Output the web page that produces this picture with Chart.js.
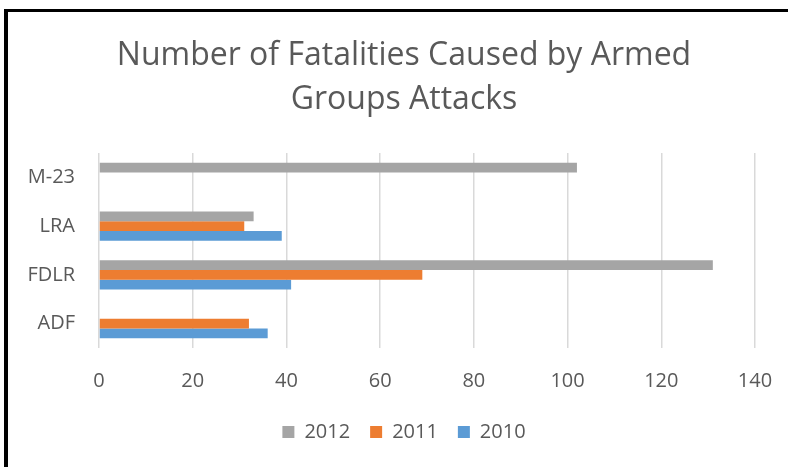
<!DOCTYPE html>
<html>
<head>
<meta charset="utf-8">
<script src="https://cdn.jsdelivr.net/npm/chart.js@4"></script>
<style>
  html, body { margin: 0; padding: 0; background: #fff; }
  body { width: 788px; height: 467px; overflow: hidden; position: relative; }
  .frame {
    position: absolute; left: 4px; top: 9px; right: 0; bottom: 0;
    border-left: 4px solid #000; border-top: 3px solid #000;
  }
  #chart { display: block; }
</style>
</head>
<body>
<div class="frame">
  <canvas id="chart" width="780" height="455"></canvas>
</div>
<script>
const groups = ['M-23', 'LRA', 'FDLR', 'ADF'];
const years = ['2012', '2011', '2010'];
const fatal2012 = [102, 33, 131, 0];
const fatal2011 = [0, 31, 69, 32];
const fatal2010 = [0, 39, 41, 36];
const xTicks = [0, 20, 40, 60, 80, 100, 120, 140];

const textColor = '#595959';

function createBarChart() {
    const ctx = document.getElementById('chart').getContext('2d');
    return new Chart(ctx, {
        type: 'bar',
        data: {
            labels: groups,
            datasets: [
                { label: years[0], data: fatal2012, backgroundColor: '#A5A5A5' },
                { label: years[1], data: fatal2011, backgroundColor: '#ED7D31' },
                { label: years[2], data: fatal2010, backgroundColor: '#5B9BD5' }
            ]
        },
        options: {
            indexAxis: 'y',
            responsive: false,
            animation: false,
            devicePixelRatio: 1,
            categoryPercentage: 0.6,
            barPercentage: 1.0,
            layout: { padding: { left: 12, right: 0, top: 0, bottom: 15 } },
            scales: {
                x: {
                    min: xTicks[0],
                    max: xTicks[xTicks.length - 1],
                    afterBuildTicks: scale => { scale.ticks = xTicks.map(v => ({ value: v })); },
                    // keep room on the right like the original, and a fixed axis height
                    afterFit: scale => { scale.height = 54; scale.paddingRight = 33; },
                    grid: { color: '#D9D9D9', lineWidth: 1.5, drawTicks: false },
                    border: { display: false },
                    ticks: {
                        padding: 21,
                        color: textColor,
                        font: { family: 'Open Sans', size: 20 }
                    }
                },
                y: {
                    afterFit: scale => { scale.width = 79; },
                    grid: { display: false, drawTicks: false },
                    border: { display: false },
                    ticks: {
                        padding: 24,
                        color: textColor,
                        font: { family: 'Open Sans', size: 20 }
                    }
                }
            },
            plugins: {
                title: {
                    display: true,
                    text: ['Number of Fatalities Caused by Armed', 'Groups Attacks'],
                    color: textColor,
                    font: { family: 'Open Sans', size: 32, weight: 'normal', lineHeight: 1.375 },
                    padding: { top: 22, bottom: 31 }
                },
                legend: {
                    position: 'bottom',
                    labels: {
                        boxWidth: 12,
                        boxHeight: 12,
                        padding: 20,
                        color: textColor,
                        font: { family: 'Open Sans', size: 20 }
                    }
                },
                tooltip: { enabled: false }
            }
        }
    });
}

createBarChart();
</script>
</body>
</html>
